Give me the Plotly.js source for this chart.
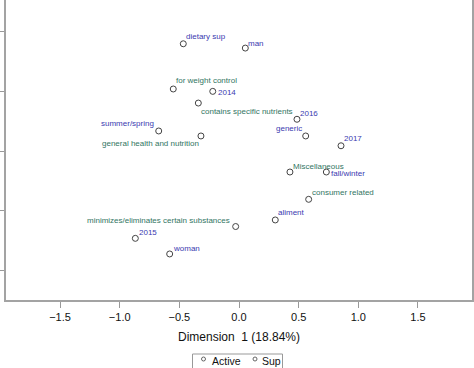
<!DOCTYPE html>
<html>
<head>
<meta charset="utf-8">
<script src="https://cdn.plot.ly/plotly-3.0.1.min.js"></script>
<style>html,body{margin:0;padding:0;background:#fff;}#chart{width:474px;height:368px;}</style>
</head>
<body>
<div id="chart"></div>
<script>
// Data
var activeLabels = ["for weight control", "contains specific nutrients", "general health and nutrition",
  "Miscellaneous", "consumer related", "minimizes/eliminates certain substances"];
var activeX = [-0.551, -0.341, -0.319, 0.427, 0.584, -0.028];
var activeY = [0.520, 0.402, 0.126, -0.176, -0.405, -0.633];

var supLabels = ["dietary sup", "man", "2014", "summer/spring", "2016", "generic", "2017",
  "fall/winter", "aliment", "2015", "woman"];
var supX = [-0.467, 0.053, -0.220, -0.673, 0.486, 0.559, 0.855, 0.732, 0.304, -0.869, -0.581];
var supY = [0.899, 0.863, 0.500, 0.168, 0.266, 0.126, 0.044, -0.176, -0.578, -0.732, -0.863];

var legendNames = ["Active", "Sup"];

var xTickVals = [-1.5, -1.0, -0.5, 0.0, 0.5, 1.0, 1.5];
var xTickText = ["\u22121.5", "\u22121.0", "\u22120.5", "0.0", "0.5", "1.0", "1.5"];
var xTitle = "Dimension\u00a0\u00a01 (18.84%)";

// Label placement (style)
var activePlace = [
  {a: "left", dx: 3, dy: 8}, {a: "left", dx: 3, dy: -8}, {a: "right", dx: -2, dy: -8},
  {a: "left", dx: 3, dy: 6}, {a: "left", dx: 3, dy: 7}, {a: "right", dx: -6, dy: 6}
];
var supPlace = [
  {a: "left", dx: 3, dy: 7}, {a: "left", dx: 3, dy: 5}, {a: "left", dx: 5.5, dy: -1},
  {a: "right", dx: -4.5, dy: 7}, {a: "left", dx: 3, dy: 6}, {a: "right", dx: -4, dy: 7},
  {a: "left", dx: 3, dy: 7}, {a: "left", dx: 5, dy: -1}, {a: "left", dx: 2.5, dy: 7},
  {a: "left", dx: 3.5, dy: 6}, {a: "left", dx: 3, dy: 5}
];

var GREEN = "#327563";
var BLUE = "#3a3ab0";
var FONT = "Liberation Sans, Arial, sans-serif";

var markerStyle = {symbol: "circle-open", size: 6, color: "#444", line: {width: 1, color: "#444"}};

var traces = [
  {x: activeX, y: activeY, text: activeLabels, type: "scatter", mode: "markers", name: legendNames[0],
   marker: markerStyle, hoverinfo: "text"},
  {x: supX, y: supY, text: supLabels, type: "scatter", mode: "markers", name: legendNames[1],
   marker: markerStyle, hoverinfo: "text"}
];

var annotations = [];
function addLabels(xs, ys, labels, place, color) {
  for (var i = 0; i < labels.length; i++) {
    annotations.push({
      x: xs[i], y: ys[i], xref: "x", yref: "y", text: labels[i], showarrow: false,
      xanchor: place[i].a, yanchor: "middle", xshift: place[i].dx, yshift: place[i].dy,
      font: {family: FONT, size: 8, color: color}, borderpad: 0, borderwidth: 0
    });
  }
}
addLabels(activeX, activeY, activeLabels, activePlace, GREEN);
addLabels(supX, supY, supLabels, supPlace, BLUE);

// Plot area geometry in pixels (for the hand-made legend box)
var PL = 6, PW = 466, PT = 0, PH = 300;
function px2x(px) { return (px - PL) / PW; }
function py2y(py) { return (PT + PH - py) / PH; }

var shapes = [
  {type: "rect", xref: "paper", yref: "paper", x0: px2x(192.5), x1: px2x(282.5), y0: py2y(354), y1: py2y(372),
   line: {color: "#999", width: 1}, fillcolor: "rgba(0,0,0,0)"}
];
var legendMarkX = [203.5, 255];
var legendTextX = [211, 260.5];
for (var k = 0; k < legendNames.length; k++) {
  shapes.push({type: "circle", xref: "paper", yref: "paper",
    x0: px2x(legendMarkX[k] - 2), x1: px2x(legendMarkX[k] + 2),
    y0: py2y(359 + 2), y1: py2y(359 - 2),
    line: {color: "#666", width: 1}});
  annotations.push({xref: "paper", yref: "paper", x: px2x(legendTextX[k]), y: py2y(361),
    xanchor: "left", yanchor: "middle", text: legendNames[k], showarrow: false,
    font: {family: FONT, size: 10.5, color: "#111"}, borderpad: 0});
}

var layout = {
  width: 474, height: 368,
  margin: {l: PL, r: 474 - PL - PW, t: PT, b: 368 - PT - PH, pad: 0},
  paper_bgcolor: "#fff", plot_bgcolor: "#fff",
  font: {family: FONT, size: 11, color: "#111"},
  showlegend: false,
  xaxis: {
    range: [-1.953, 1.953], tickvals: xTickVals, ticktext: xTickText,
    ticks: "outside", ticklen: 6, tickcolor: "#999", tickwidth: 1,
    showline: true, mirror: true, linecolor: "#a3a3a3", linewidth: 2,
    showgrid: false, zeroline: false, automargin: false,
    tickfont: {size: 11, color: "#111"},
    title: {text: xTitle, font: {size: 12, color: "#111"}, standoff: 10}
  },
  yaxis: {
    range: [-1.249, 1.266], tick0: 0, dtick: 0.5,
    ticks: "outside", ticklen: 6, tickcolor: "#999", tickwidth: 1,
    showticklabels: false, automargin: false,
    showline: true, mirror: true, linecolor: "#a3a3a3", linewidth: 2,
    showgrid: false, zeroline: false
  },
  shapes: shapes,
  annotations: annotations
};

Plotly.newPlot("chart", traces, layout, {displayModeBar: false, staticPlot: true});
</script>
</body>
</html>
